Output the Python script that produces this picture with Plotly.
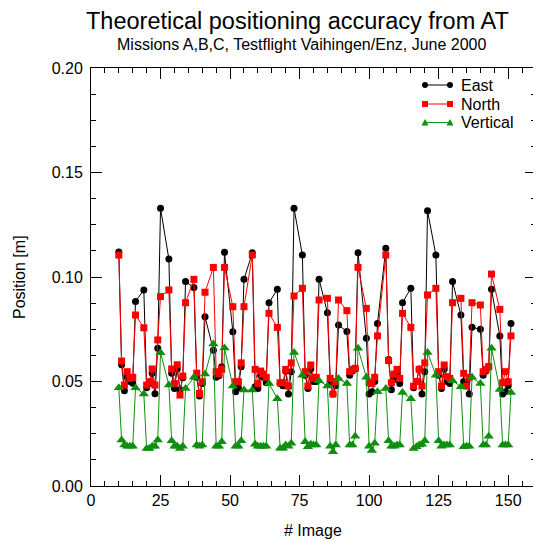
import plotly.graph_objects as go

images = [10, 11, 12, 13, 14, 15, 16, 19, 20, 21, 22, 23, 24, 25, 28, 29, 30, 31, 32, 33, 34,
          37, 38, 39, 40, 41, 44, 45, 46, 47, 48, 51, 52, 53, 54, 55,
          58, 59, 60, 61, 62, 63, 64, 67, 68, 69, 70, 71, 72, 73, 76, 77, 78, 79, 80, 81, 82,
          85, 86, 87, 88, 89, 92, 93, 94, 95, 96, 99, 100, 101, 102, 103,
          106, 107, 108, 109, 110, 111, 112, 115, 116, 117, 118, 119, 120, 121, 124, 125, 126, 127, 128, 129, 130,
          133, 134, 135, 136, 137, 140, 141, 142, 143, 144, 147, 148, 149, 150, 151]

east = [0.112, 0.058, 0.0456, 0.052, 0.050, 0.0492, 0.0883, 0.0938, 0.047, 0.049, 0.054, 0.0441, 0.0659, 0.1329,
        0.1086, 0.054, 0.0467, 0.056, 0.046, 0.0518, 0.0978,
        0.095, 0.052, 0.0431, 0.049, 0.081, 0.065, 0.052, 0.0527, 0.0571, 0.1118, 0.0738, 0.0451, 0.047, 0.057, 0.0989,
        0.1116, 0.0475, 0.0467, 0.053, 0.052, 0.0494, 0.0877, 0.0941, 0.049, 0.048, 0.055, 0.044, 0.0547, 0.1329,
        0.1105, 0.053, 0.0467, 0.056, 0.050, 0.050, 0.0989,
        0.0829, 0.050, 0.044, 0.048, 0.0770, 0.0739, 0.053, 0.055, 0.056, 0.1116, 0.0707, 0.044, 0.0451, 0.050, 0.0778,
        0.1137, 0.0605, 0.046, 0.051, 0.054, 0.049, 0.0877, 0.0946, 0.047, 0.050, 0.056, 0.044, 0.0547, 0.1317,
        0.1105, 0.053, 0.0467, 0.056, 0.050, 0.049, 0.0978,
        0.0818, 0.050, 0.049, 0.044, 0.0759, 0.075, 0.053, 0.055, 0.057, 0.0941, 0.0718, 0.044, 0.0451, 0.048, 0.0778]

north = [0.1105, 0.0598, 0.0483, 0.0547, 0.0515, 0.052, 0.0818, 0.0757, 0.0483, 0.0499, 0.056, 0.0483, 0.0699, 0.0906,
         0.0938, 0.056, 0.049, 0.058, 0.0435, 0.0526, 0.0877,
         0.0989, 0.054, 0.0443, 0.0499, 0.0927, 0.1046, 0.0547, 0.0536, 0.0558, 0.1046, 0.0858, 0.0499, 0.0499, 0.0589, 0.0858,
         0.1105, 0.0558, 0.049, 0.055, 0.0536, 0.052, 0.0826, 0.0759, 0.0494, 0.0494, 0.0558, 0.0478, 0.0589, 0.0909,
         0.0946, 0.0547, 0.0478, 0.0579, 0.0515, 0.052, 0.089,
         0.0898, 0.0515, 0.044, 0.050, 0.089, 0.0839, 0.0547, 0.0558, 0.0563, 0.1046, 0.085, 0.0494, 0.049, 0.052, 0.0718,
         0.1105, 0.0600, 0.0494, 0.0535, 0.0558, 0.0515, 0.0826, 0.0759, 0.0478, 0.050, 0.0558, 0.0478, 0.0589, 0.0914,
         0.0946, 0.0547, 0.0478, 0.0579, 0.0523, 0.0515, 0.0877,
         0.0898, 0.0539, 0.0478, 0.052, 0.0877, 0.0866, 0.0547, 0.0558, 0.0571, 0.1014, 0.0845, 0.0494, 0.0547, 0.0499, 0.0718]

vertical = [0.047, 0.022, 0.0196, 0.019, 0.019, 0.019, 0.047, 0.044, 0.018, 0.018, 0.019, 0.019, 0.022, 0.0638,
            0.0483, 0.0216, 0.019, 0.019, 0.018, 0.019, 0.0467,
            0.052, 0.0196, 0.019, 0.0196, 0.0536, 0.068, 0.019, 0.019, 0.0212, 0.066, 0.0478, 0.019, 0.019, 0.0216, 0.0459,
            0.0459, 0.020, 0.019, 0.019, 0.019, 0.019, 0.049, 0.0418, 0.0181, 0.0181, 0.0196, 0.019, 0.0204, 0.0639,
            0.053, 0.0212, 0.0188, 0.020, 0.0196, 0.0196, 0.0504,
            0.0478, 0.019, 0.0164, 0.0196, 0.0514, 0.049, 0.0196, 0.0196, 0.0238, 0.0659, 0.052, 0.019, 0.017, 0.0204, 0.0451,
            0.0467, 0.0217, 0.019, 0.019, 0.0196, 0.0196, 0.0447, 0.0418, 0.018, 0.0188, 0.0196, 0.020, 0.0217, 0.0639,
            0.053, 0.0217, 0.019, 0.0196, 0.0196, 0.0196, 0.0504,
            0.0475, 0.0188, 0.019, 0.019, 0.052, 0.049, 0.0196, 0.0196, 0.0238, 0.0659, 0.0462, 0.0196, 0.0196, 0.0196, 0.0447]

series_names = ["East", "North", "Vertical"]
title_text = "Theoretical positioning accuracy from AT"
subtitle_text = "Missions A,B,C, Testflight Vaihingen/Enz, June 2000"
x_title = "# Image"
y_title = "Position [m]"

FONT = "Liberation Sans, Arial, Helvetica, sans-serif"
GREEN = "#0f8f0f"
COLORS = ["black", "#ff0000", GREEN]

# The page body has an 8px margin, so the figure is drawn 8px smaller and everything
# is laid out in reference-pixel terms relative to the plot area.
OFF = 8
W = H = 541 - OFF
PL, PR, PT, PB = 91, 536, 68, 486   # plot area in reference pixels
PW, PH = PR - PL, PB - PT


def paper(x, y):
    return (x - PL) / PW, (PB - y) / PH


fig = go.Figure()
fig.add_trace(go.Scatter(x=images, y=east, name=series_names[0], mode="lines+markers",
                         line=dict(color=COLORS[0], width=1),
                         marker=dict(symbol="circle", size=7, color=COLORS[0])))
fig.add_trace(go.Scatter(x=images, y=north, name=series_names[1], mode="lines+markers",
                         line=dict(color=COLORS[1], width=1),
                         marker=dict(symbol="square", size=7, color=COLORS[1])))
fig.add_trace(go.Scatter(x=images, y=vertical, name=series_names[2], mode="lines+markers",
                         line=dict(color=COLORS[2], width=1),
                         marker=dict(symbol="triangle-up", size=9, color=COLORS[2])))

axis_common = dict(showline=True, linecolor="black", linewidth=1, mirror="allticks",
                   ticks="inside", ticklen=11, tickwidth=1, tickcolor="black",
                   showgrid=False, zeroline=False,
                   tickfont=dict(family=FONT, size=16, color="black"))

fig.update_xaxes(range=[0, 160], tick0=0, dtick=25, ticklabelstandoff=0,
                 minor=dict(ticks="inside", ticklen=5, dtick=5, tick0=0, tickcolor="black", showgrid=False),
                 **axis_common)
fig.update_yaxes(range=[0, 0.2], tick0=0, dtick=0.05, tickformat=".2f", ticklabelstandoff=4,
                 minor=dict(ticks="inside", ticklen=5, dtick=0.0125, tick0=0, tickcolor="black", showgrid=False),
                 **axis_common)

anns = []
shapes = []

def text(t, X, Y, size, angle=0, xanchor="center", pad=1):
    x, y = paper(X, Y)
    anns.append(dict(text=t, x=x, y=y, xref="paper", yref="paper", showarrow=False,
                     textangle=angle, font=dict(size=size, family=FONT, color="black"),
                     xanchor=xanchor, yanchor="middle", borderpad=pad))

text(title_text, 297, 21, 23.5, pad=0)
text(subtitle_text, 302, 44.5, 16)
text(x_title, 313, 530, 16)
text(y_title, 19, 277, 16, angle=-90)

# custom legend (line with a marker at each end, like the reference)
leg_rows = [85, 104, 122.5]
LX0, LX1, TX = 425, 450, 459
for i, (name, col) in enumerate(zip(series_names, COLORS)):
    Y = leg_rows[i]
    x0, y0 = paper(LX0, Y)
    x1, _ = paper(LX1, Y)
    shapes.append(dict(type="line", xref="paper", yref="paper", x0=x0, x1=x1, y0=y0, y1=y0,
                       line=dict(color=col, width=1)))
    for X in (LX0, LX1):
        if i == 0:
            a0, b0 = paper(X - 3, Y + 3)
            a1, b1 = paper(X + 3, Y - 3)
            shapes.append(dict(type="circle", xref="paper", yref="paper", x0=a0, x1=a1, y0=b0, y1=b1,
                               fillcolor=col, line=dict(color=col, width=0)))
        elif i == 1:
            a0, b0 = paper(X - 3, Y + 3)
            a1, b1 = paper(X + 3, Y - 3)
            shapes.append(dict(type="rect", xref="paper", yref="paper", x0=a0, x1=a1, y0=b0, y1=b1,
                               fillcolor=col, line=dict(color=col, width=0)))
        else:
            p1 = paper(X - 3.5, Y + 3)
            p2 = paper(X + 3.5, Y + 3)
            p3 = paper(X, Y - 3.5)
            path = "M {:.5f},{:.5f} L {:.5f},{:.5f} L {:.5f},{:.5f} Z".format(p1[0], p1[1], p2[0], p2[1], p3[0], p3[1])
            shapes.append(dict(type="path", xref="paper", yref="paper", path=path,
                               fillcolor=col, line=dict(color=col, width=0)))
    text(name, TX, Y, 16, xanchor="left")

fig.update_layout(
    width=W, height=H,
    margin=dict(l=PL - OFF, r=W - (PR - OFF), t=PT - OFF, b=H - (PB - OFF), pad=0),
    paper_bgcolor="white", plot_bgcolor="white",
    font=dict(family=FONT, color="black"),
    showlegend=False,
    annotations=anns,
    shapes=shapes,
)

fig.write_html("out.html")
